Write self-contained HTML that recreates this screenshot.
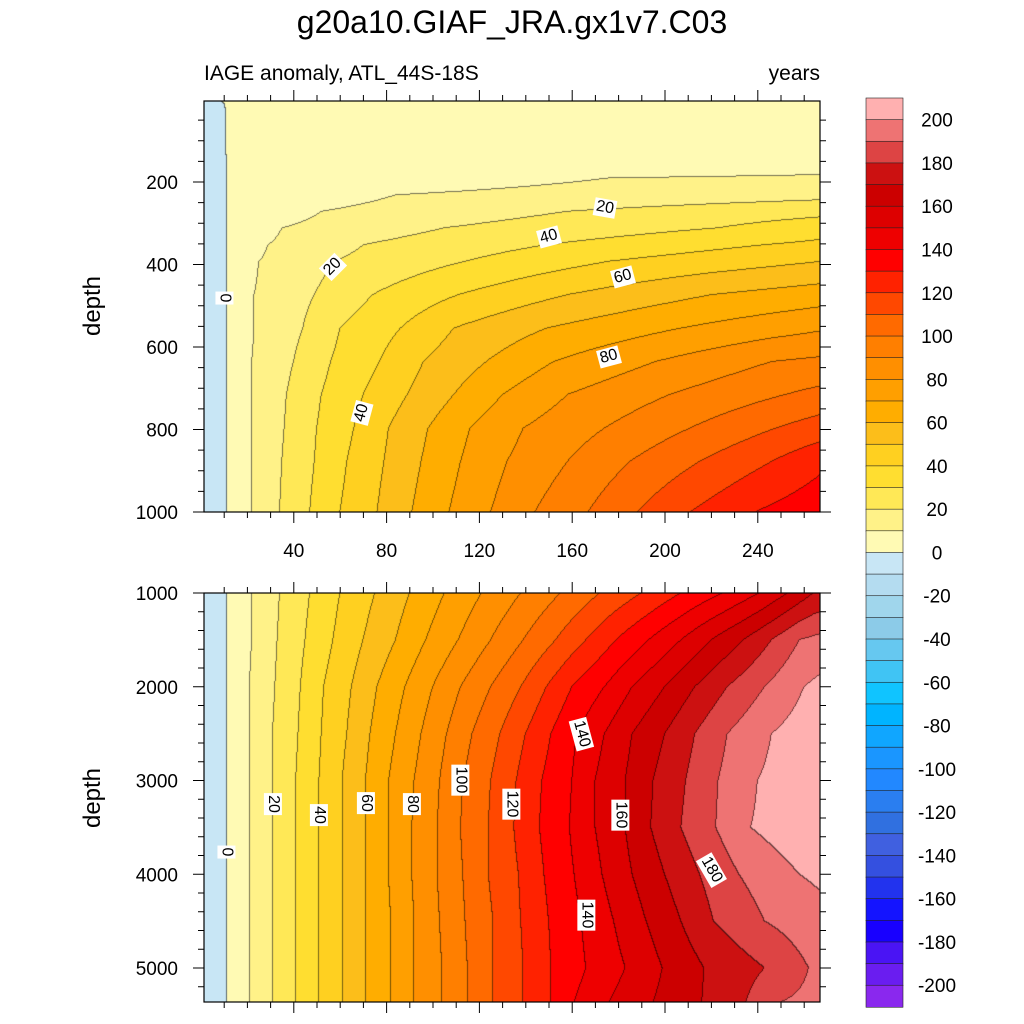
<!DOCTYPE html>
<html><head><meta charset="utf-8">
<style>
body{margin:0;background:#fff;}
#root{position:relative;width:1024px;height:1024px;overflow:hidden;background:#fff;font-family:"Liberation Sans",sans-serif;color:#000;}
.abs{position:absolute;white-space:nowrap;}
canvas{position:absolute;}
.lbl{position:absolute;background:#fff;font-size:16px;line-height:16px;padding:1px 2px;transform-origin:center center;white-space:nowrap;}
</style></head>
<body>
<div id="root">
<div class="abs" style="left:0;width:1024px;text-align:center;top:4px;font-size:32px;">g20a10.GIAF_JRA.gx1v7.C03</div>
<div class="abs" style="left:204px;top:62px;font-size:21px;">IAGE anomaly, ATL_44S-18S</div>
<div class="abs" style="right:204px;top:62px;font-size:21px;">years</div>
<div class="abs" style="left:93px;top:306px;font-size:24px;transform:translate(-50%,-50%) rotate(-90deg);">depth</div>
<div class="abs" style="left:93px;top:798px;font-size:24px;transform:translate(-50%,-50%) rotate(-90deg);">depth</div>
<canvas id="cTop" width="616" height="411" style="left:204px;top:101px;"></canvas>
<canvas id="cBot" width="616" height="409" style="left:204px;top:593px;"></canvas>
<svg id="axes" width="1024" height="1024" style="position:absolute;left:0;top:0;"></svg>
</div>
<script>
// ---- data ----
const levels = [0,10,20,30,40,50,60,70,80,90,100,110,120,130,140,150,160,170,180,190,200];
const topDepths = [5,151,191,232,272,312,353,393,474,555,636,716,797,878,1000];
const topCross = [
 [9],
 [11],
 [11,176],
 [11,84],
 [11,52,158],
 [11,35,105,223],
 [11,29,70,149,243],
 [11,25,58,114,176],
 [11,23,49,74,111,158,220],
 [11,23,44,60,86,109,149,207],
 [11,22,40,56,77,96,123,152,196,246],
 [11,22,37,52,70,89,109,130,158,202,252],
 [11,22,36,50,66,81,98,116,139,174,211,248],
 [11,22,35,49,63,79,95,112,132,158,185,215,246],
 [11,22,34,47,60,76,91,107,125,144,167,188,211,239]
];
const topRight = [4,6,11,17,27,36,42,50,65,79,92,103,115,128,137];
const botDepths = [1000,1500,2000,2500,3000,3500,4000,4500,5000,5363];
const botCross = [
 [11,22,34,47,60,75,90,105,121,138,155,172,190,207,225,241,253,264],
 [11,22,33,45,57,70,84,97,111,125,139,153,166,179,193,207,220,234,246,258],
 [11,21,32,43,53,65,76,88,100,112,125,138,149,160,174,186,200,213,227,243,260],
 [11,21,31,42,52,63,73,84,95,106,117,129,140,151,162,174,186,200,213,227,246],
 [11,21,31,41,51,61,71,81,92,103,113,125,136,147,160,170,183,195,209,223,240],
 [11,21,31,41,51,61,71,81,91,102,112,124,135,146,159,170,183,194,207,222,237],
 [11,21,31,41,51,61,71,81,91,102,113,124,137,148,161,173,186,200,215,232,258],
 [11,21,31,41,51,61,71,82,92,103,114,126,138,150,164,178,192,207,221,243],
 [11,21,31,41,51,61,71,82,92,104,115,126,139,151,166,183,199,217,243,262],
 [11,21,31,41,51,61,71,82,92,104,115,126,139,151,161,176,195,216,235,250]
];
const botRight = [172,193,203,207,208,210,202,197,192,193];
const topXTicks = [40,80,120,160,200,240];
const topYTicks = [200,400,600,800,1000];
const botYTicks = [1000,2000,3000,4000,5000];
const cbLevels = [200,180,160,140,120,100,80,60,40,20,0,-20,-40,-60,-80,-100,-120,-140,-160,-180,-200];
const colors = ['#8a28ee','#6a1df0','#4a14f4','#1800ff','#1414ff','#2233ee','#3450e0','#4060e0','#3070e0','#2a7ef0','#2288ff','#1a96ff','#10a6ff','#00b4ff','#10c4ff','#40c4f4','#66c8f0','#8ccbe8','#a0d6ec','#b4dcf0','#c8e6f5','#fffab4','#fff288','#ffe856','#ffde30','#ffd020','#fcbe1a','#ffad00','#ff9f00','#ff8f00','#ff7f00','#ff6a00','#ff4800','#ff2200','#ff0000','#ee0000','#dd0000','#cc0000','#cc1111','#dd4444','#ee7373','#ffb0b0'];
const topLabels = [["0",10.3,481,90],["20",56.9,406,-45],["20",174,264,10],["40",150,333,-15],["60",182,430,-15],["80",176,624,-15],["40",69.4,760,-75]];
const botLabels = [["0",11,3760,90],["20",31,3250,90],["40",51,3370,90],["60",71,3240,90],["80",91,3250,90],["100",112,2990,90],["120",134,3250,90],["140",164,2500,75],["160",181,3370,90],["180",220,3950,60],["140",166,4430,90]];
const TMAX = 268;
// ---- scales ----
const xS = t => 201 + 2.32*t;
const tFromX = x => (x-201)/2.32;
const yTop = d => 182 + (d-200)*0.4125;
const dTop = y => 200 + (y-182)/0.4125;
const yBot = d => 593 + (d-1000)*0.09375;
const dBot = y => 1000 + (y-593)/0.09375;

function rowVal(cr, rv, t){
  if(t <= cr[0]) return -5 + 5*Math.max(t,0)/cr[0];
  for(let i=1;i<cr.length;i++){
    if(t <= cr[i]) return levels[i-1] + 10*(t-cr[i-1])/(cr[i]-cr[i-1]);
  }
  const k = cr.length-1;
  const last = cr[k];
  if(last >= TMAX) return levels[k] + 9.9;
  return levels[k] + (rv-levels[k])*(t-last)/(TMAX-last);
}
function fieldVal(depths, cross, right, t, d){
  if(d <= depths[0]) return rowVal(cross[0], right[0], t);
  for(let i=1;i<depths.length;i++){
    if(d <= depths[i]){
      const f = (d-depths[i-1])/(depths[i]-depths[i-1]);
      return (1-f)*rowVal(cross[i-1],right[i-1],t) + f*rowVal(cross[i],right[i],t);
    }
  }
  const n = depths.length-1;
  return rowVal(cross[n], right[n], t);
}
function hex(c){return [parseInt(c.substr(1,2),16),parseInt(c.substr(3,2),16),parseInt(c.substr(5,2),16)];}
const rgb = colors.map(hex);
function band(v){let b=Math.floor(v/10)+21; return Math.max(0,Math.min(41,b));}

function drawPanel(id, left, top, depthFn, depths, cross, right){
  const cv = document.getElementById(id);
  const ctx = cv.getContext('2d');
  const W = cv.width, H = cv.height;
  const img = ctx.createImageData(W,H);
  const B = new Int8Array(W*H);
  for(let y=0;y<H;y++){
    const d = depthFn(top+y+0.5);
    for(let x=0;x<W;x++){
      const t = tFromX(left+x+0.5);
      B[y*W+x] = band(fieldVal(depths,cross,right,t,d));
    }
  }
  for(let y=0;y<H;y++){
    for(let x=0;x<W;x++){
      const i=y*W+x, b=B[i];
      let c = rgb[b];
      let edge = (x<W-1 && B[i+1]!==b) || (y<H-1 && B[i+W]!==b);
      const p=i*4;
      const k = edge?0.45:1;
      img.data[p]=c[0]*k; img.data[p+1]=c[1]*k; img.data[p+2]=c[2]*k; img.data[p+3]=255;
    }
  }
  ctx.putImageData(img,0,0);
}
drawPanel('cTop',204,101,dTop,topDepths,topCross,topRight);
drawPanel('cBot',204,593,dBot,botDepths,botCross,botRight);

// ---- axes ----
const svg = document.getElementById('axes');
const NS='http://www.w3.org/2000/svg';
function mk(tag, attrs){const e=document.createElementNS(NS,tag); for(const k in attrs) e.setAttribute(k,attrs[k]); svg.appendChild(e); return e;}
function line(x1,y1,x2,y2,w,name){
  const e=mk('line',{x1,y1,x2,y2,stroke:'#000','stroke-width':w});
  
  
}
function text(x,y,s,anchor,name,size){
  const e=mk('text',{x,y,'text-anchor':anchor,'font-size':size||19,'font-family':'Liberation Sans, sans-serif'});
  e.textContent=s;
  
  
}
function panelFrame(L,T,R,Bt,yFn,yMin,yMax,yMajor,yMinorStep,yTicks,xLabels,prefix){
  const r=mk('rect',{x:L,y:T,width:R-L,height:Bt-T,fill:'none',stroke:'#000','stroke-width':1.2});
  
  
  for(let t=10;t<=TMAX;t+=10){
    const x=xS(t); if(x<=L||x>=R) continue;
    const len = (t%40===0)?11:6;
    line(x,Bt,x,Bt+len,1,prefix+'-x-tick-bottom');
    line(x,T,x,T-len,1,prefix+'-x-tick-top');
  }
  if(xLabels){ xLabels.forEach(t=>text(xS(t),Bt+45,String(t),'middle',prefix+'-x-tick-label')); }
  const start=Math.ceil(yMin/yMinorStep)*yMinorStep;
  for(let d=start; d<=yMax; d+=yMinorStep){
    const y=yFn(d); if(y<T-0.5||y>Bt+0.5) continue;
    const len=(d%yMajor===0)?11:6;
    line(L,y,L-len,y,1,prefix+'-y-tick-left');
    line(R,y,R+len,y,1,prefix+'-y-tick-right');
  }
  yTicks.forEach(d=>text(L-26,yFn(d)+7,String(d),'end',prefix+'-y-tick-label'));
}
panelFrame(204,101,820,512,yTop,5,1000,200,50,topYTicks,topXTicks,'top-panel');
panelFrame(204,593,820,1002,yBot,1000,5363,1000,200,botYTicks,null,'bottom-panel');

// ---- colorbar ----
const cbL=866, cbW=37, cbT=98, cbH=21.64;
for(let i=0;i<42;i++){
  const idx = 41-i;
  const r=mk('rect',{x:cbL,y:cbT+i*cbH,width:cbW,height:cbH+0.4,fill:colors[idx],stroke:'#222','stroke-width':0.6});
  
  
}
cbLevels.forEach(L=>{
  const y = cbT + cbH*(1+(200-L)/10);
  text(937,y+7,String(L),'middle','colorbar-label');
});

// ---- contour labels ----
const root=document.getElementById('root');
function addLabels(list, yFn, prefix){
  list.forEach(l=>{
    const el=document.createElement('div');
    el.className='lbl';
    el.textContent=l[0];
    
    
    root.appendChild(el);
    const w=el.offsetWidth,h=el.offsetHeight;
    el.style.left=(xS(l[1])-w/2)+'px';
    el.style.top=(yFn(l[2])-h/2)+'px';
    el.style.transform='rotate('+l[3]+'deg)';
  });
}
addLabels(topLabels,yTop,'top');
addLabels(botLabels,yBot,'bottom');
</script>
</body></html>
